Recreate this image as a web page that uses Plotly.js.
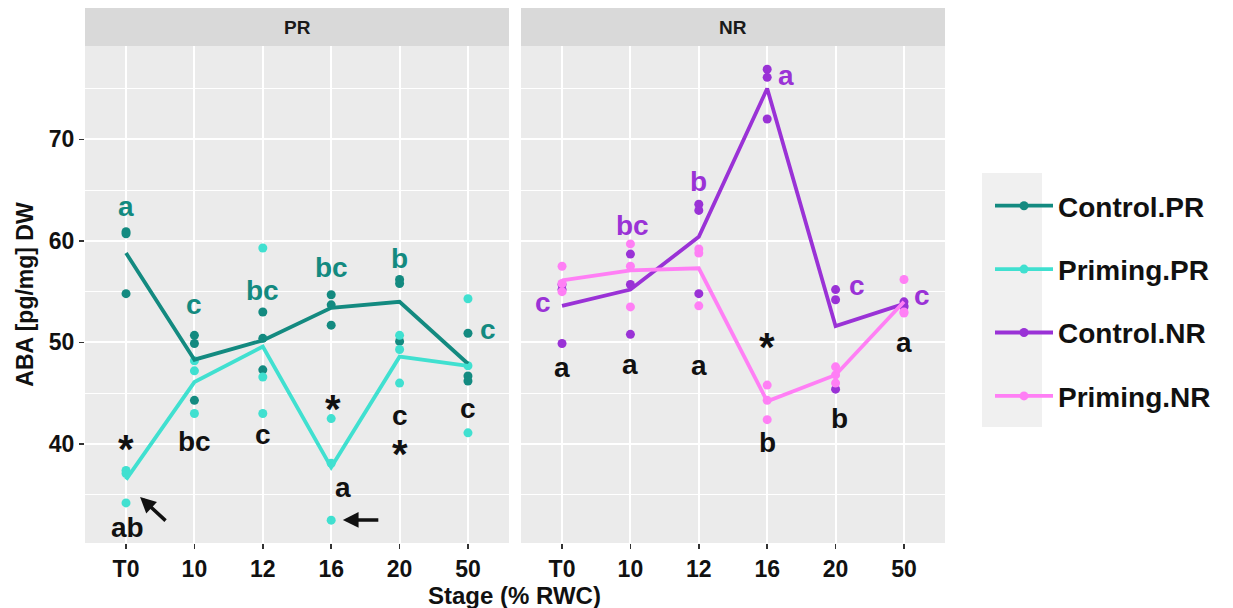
<!DOCTYPE html>
<html>
<head>
<meta charset="utf-8">
<script src="https://cdn.plot.ly/plotly-3.0.1.min.js"></script>
<style>
  html, body { margin: 0; padding: 0; background: #ffffff; }
  #chart { width: 1233px; height: 608px; }
</style>
</head>
<body>
<div id="chart"></div>
<script>
// Sampling stages (% relative water content)
const stages = ['T0', '10', '12', '16', '20', '50'];

// ABA content, three biological replicates per stage
const controlPR = [[60.9, 60.7, 54.8], [50.7, 49.9, 44.3], [53.0, 50.4, 47.3], [54.7, 53.7, 51.7], [56.2, 55.8, 50.1], [50.9, 46.7, 46.2]];
const primingPR = [[37.4, 37.1, 34.2], [48.2, 47.2, 43.0], [59.3, 46.6, 43.0], [42.5, 38.1, 32.5], [50.7, 49.3, 46.0], [54.3, 47.7, 41.1]];
const controlNR = [[55.7, 55.2, 49.9], [58.7, 55.7, 50.8], [63.6, 63.0, 54.8], [76.9, 76.1, 72.0], [55.2, 54.2, 45.4], [54.0, 53.6, 53.5]];
const primingNR = [[57.5, 55.8, 55.0], [59.7, 57.5, 53.5], [59.2, 58.8, 53.6], [45.8, 44.3, 42.4], [47.6, 46.8, 46.0], [56.2, 53.0, 52.9]];

// Stage means joined by the lines
const controlPRMean = [58.8, 48.3, 50.2, 53.4, 54.0, 47.9];
const primingPRMean = [36.5, 46.1, 49.6, 37.7, 48.6, 47.7];
const controlNRMean = [53.6, 55.2, 60.4, 75.0, 51.6, 53.8];
const primingNRMean = [56.1, 57.1, 57.3, 44.2, 46.8, 54.0];

// Significance letters per stage (control in series colour, priming in black)
const lettersControlPR = ['a', 'c', 'bc', 'bc', 'b', 'c'];
const lettersPrimingPR = ['ab', 'bc', 'c', 'a', 'c', 'c'];
const lettersControlNR = ['c', 'bc', 'b', 'a', 'c', 'c'];
const lettersPrimingNR = ['a', 'a', 'a', 'b', 'b', 'a'];
// Stages where control and priming differ (*)
const starsPR = ['T0', '16', '20'];
const starsNR = ['16'];

const colors = {
  'Control.PR': '#138a80',
  'Priming.PR': '#40e0d0',
  'Control.NR': '#9a32d6',
  'Priming.NR': '#ff7ff5'
};

const series = [
  { name: 'Control.PR', reps: controlPR, mean: controlPRMean, xa: 'x',  ya: 'y'  },
  { name: 'Priming.PR', reps: primingPR, mean: primingPRMean, xa: 'x',  ya: 'y'  },
  { name: 'Control.NR', reps: controlNR, mean: controlNRMean, xa: 'x2', ya: 'y2' },
  { name: 'Priming.NR', reps: primingNR, mean: primingNRMean, xa: 'x2', ya: 'y2' }
];

const FONT = '"Liberation Sans", Arial, Helvetica, sans-serif';
const traces = [];

// replicate points
series.forEach(s => {
  const xs = [], ys = [];
  s.reps.forEach((vals, i) => vals.forEach(v => { xs.push(stages[i]); ys.push(v); }));
  traces.push({
    type: 'scatter', mode: 'markers', x: xs, y: ys, xaxis: s.xa, yaxis: s.ya,
    marker: { color: colors[s.name], size: 9 }, showlegend: false, hoverinfo: 'skip'
  });
});
// mean lines
series.forEach(s => {
  traces.push({
    type: 'scatter', mode: 'lines', x: stages, y: s.mean, xaxis: s.xa, yaxis: s.ya,
    line: { color: colors[s.name], width: 3.8 }, showlegend: false, hoverinfo: 'skip'
  });
});
// legend keys
series.forEach(s => {
  traces.push({
    type: 'scatter', mode: 'lines+markers', x: [null], y: [null], xaxis: s.xa, yaxis: s.ya,
    name: s.name, legendgroup: s.name,
    line: { color: colors[s.name], width: 3.8 }, marker: { color: colors[s.name], size: 9 }
  });
});

// label placement: [stage index offset, y value] for each letter
const posControlPR = [[0, 63.16], [0, 53.49], [0, 55.16], [0, 57.33], [0, 58.31], [0.29, 51.03]];
const posPrimingPR = [[0.02, 31.74], [0, 40.2], [0, 40.75], [0.17, 35.48], [0, 42.65], [0, 43.34]];
const posControlNR = [[-0.28, 53.69], [0.03, 61.56], [0, 65.8], [0.28, 76.04], [0.31, 55.36], [0.27, 54.38]];
const posPrimingNR = [[0, 47.29], [0, 47.59], [0, 47.49], [0, 40.1], [0.06, 42.56], [0, 49.75]];
const posStarsPR = [[0, 40.39], [0.02, 44.33], [0, 39.89]];
const posStarsNR = [[0, 50.44]];

function yShiftFor(t) {
  if (t === '*') return -9;
  if (/^[ace]+$/.test(t)) return 2;
  return 0;
}

const annotations = [];
function addLabels(texts, pos, xref, yref, color) {
  texts.forEach((t, i) => {
    annotations.push({
      xref: xref, yref: yref, x: i + pos[i][0], y: pos[i][1], text: t, showarrow: false,
      xanchor: 'center', yanchor: 'middle', yshift: yShiftFor(t),
      font: { family: FONT, size: 28, weight: 'bold', color: color }
    });
  });
}
function addStars(list, pos, xref, yref) {
  list.forEach((st, k) => {
    annotations.push({
      xref: xref, yref: yref, x: stages.indexOf(st) + pos[k][0], y: pos[k][1], text: '*', showarrow: false,
      xanchor: 'center', yanchor: 'middle', yshift: yShiftFor('*'),
      font: { family: FONT, size: 40, weight: 'bold', color: '#111111' }
    });
  });
}
addLabels(lettersControlPR, posControlPR, 'x', 'y', colors['Control.PR']);
addLabels(lettersPrimingPR, posPrimingPR, 'x', 'y', '#111111');
addLabels(lettersControlNR, posControlNR, 'x2', 'y2', colors['Control.NR']);
addLabels(lettersPrimingNR, posPrimingNR, 'x2', 'y2', '#111111');
addStars(starsPR, posStarsPR, 'x', 'y');
addStars(starsNR, posStarsNR, 'x2', 'y2');

// arrows pointing at the lowest priming replicates
annotations.push({ xref: 'x', yref: 'y', x: 0.205, y: 34.78, ax: 27, ay: 25, text: '', showarrow: true,
  arrowhead: 2, arrowsize: 0.9, arrowwidth: 3.5, arrowcolor: '#111111', standoff: 0 });
annotations.push({ xref: 'x', yref: 'y', x: 3.17, y: 32.52, ax: 37, ay: 0, text: '', showarrow: true,
  arrowhead: 2, arrowsize: 0.9, arrowwidth: 3.5, arrowcolor: '#111111', standoff: 0 });

// facet strip titles and the shared x title
const W = 1233, H = 608;
const leftDom = [85 / W, 509 / W];
const rightDom = [521 / W, 945 / W];
const yDom = [(H - 543) / H, (H - 46) / H];
const stripTop = 1 - 8 / H;

annotations.push({ xref: 'paper', yref: 'paper', x: (leftDom[0] + leftDom[1]) / 2, y: (yDom[1] + stripTop) / 2,
  text: 'PR', showarrow: false, xanchor: 'center', yanchor: 'middle',
  font: { family: FONT, size: 19, weight: 'bold', color: '#1a1a1a' } });
annotations.push({ xref: 'paper', yref: 'paper', x: (rightDom[0] + rightDom[1]) / 2, y: (yDom[1] + stripTop) / 2,
  text: 'NR', showarrow: false, xanchor: 'center', yanchor: 'middle',
  font: { family: FONT, size: 19, weight: 'bold', color: '#1a1a1a' } });
annotations.push({ xref: 'paper', yref: 'paper', x: (leftDom[0] + rightDom[1]) / 2, y: 1 - 595 / H,
  text: 'Stage (% RWC)', showarrow: false, xanchor: 'center', yanchor: 'middle',
  font: { family: FONT, size: 24, weight: 'bold', color: '#111111' } });

const shapes = [
  { type: 'rect', xref: 'paper', yref: 'paper', x0: leftDom[0], x1: leftDom[1], y0: yDom[1], y1: stripTop,
    fillcolor: '#d9d9d9', line: { width: 0 }, layer: 'below' },
  { type: 'rect', xref: 'paper', yref: 'paper', x0: rightDom[0], x1: rightDom[1], y0: yDom[1], y1: stripTop,
    fillcolor: '#d9d9d9', line: { width: 0 }, layer: 'below' },
  // legend key background
  { type: 'rect', xref: 'paper', yref: 'paper', x0: 982 / W, x1: 1042 / W, y0: 1 - 427 / H, y1: 1 - 173 / H,
    fillcolor: '#f0f0f0', line: { width: 0 }, layer: 'below' }
];

const xCommon = {
  type: 'category', categoryorder: 'array', categoryarray: stages, range: [-0.6, 5.6],
  showgrid: true, gridcolor: '#ffffff', gridwidth: 2, zeroline: false, showline: false,
  ticks: 'outside', ticklen: 5, tickwidth: 1.5, tickcolor: '#333333',
  tickfont: { family: FONT, size: 23, weight: 'bold', color: '#111111' }, fixedrange: true
};
const yCommon = {
  range: [30.253, 79.186], tickvals: [40, 50, 60, 70], showgrid: true, gridcolor: '#ffffff', gridwidth: 2,
  minor: { tickvals: [35, 45, 55, 65, 75], showgrid: true, gridcolor: '#ffffff', gridwidth: 1, ticks: '' },
  zeroline: false, showline: false, domain: yDom, fixedrange: true
};

const layout = {
  width: W, height: H, margin: { l: 0, r: 0, t: 0, b: 0 },
  paper_bgcolor: '#ffffff', plot_bgcolor: '#ebebeb',
  font: { family: FONT, color: '#111111' },
  xaxis: Object.assign({}, xCommon, { domain: leftDom, anchor: 'y' }),
  xaxis2: Object.assign({}, xCommon, { domain: rightDom, anchor: 'y2' }),
  yaxis: Object.assign({}, yCommon, {
    anchor: 'x', ticks: 'outside', ticklen: 5, tickwidth: 1.5, tickcolor: '#333333',
    tickfont: { family: FONT, size: 23, weight: 'bold', color: '#111111' },
    title: { text: 'ABA [pg/mg] DW', font: { family: FONT, size: 23, weight: 'bold', color: '#111111' }, standoff: 8 }
  }),
  yaxis2: Object.assign({}, yCommon, { anchor: 'x2', matches: 'y', showticklabels: false, ticks: '' }),
  showlegend: true,
  legend: {
    x: 990 / W, xanchor: 'left', y: 1 - 301 / H, yanchor: 'middle',
    bgcolor: 'rgba(0,0,0,0)', borderwidth: 0, itemwidth: 58, tracegroupgap: 24,
    font: { family: FONT, size: 28, weight: 'bold', color: '#111111' }
  },
  annotations: annotations,
  shapes: shapes
};

Plotly.newPlot('chart', traces, layout, { displayModeBar: false, staticPlot: true });
</script>
</body>
</html>
